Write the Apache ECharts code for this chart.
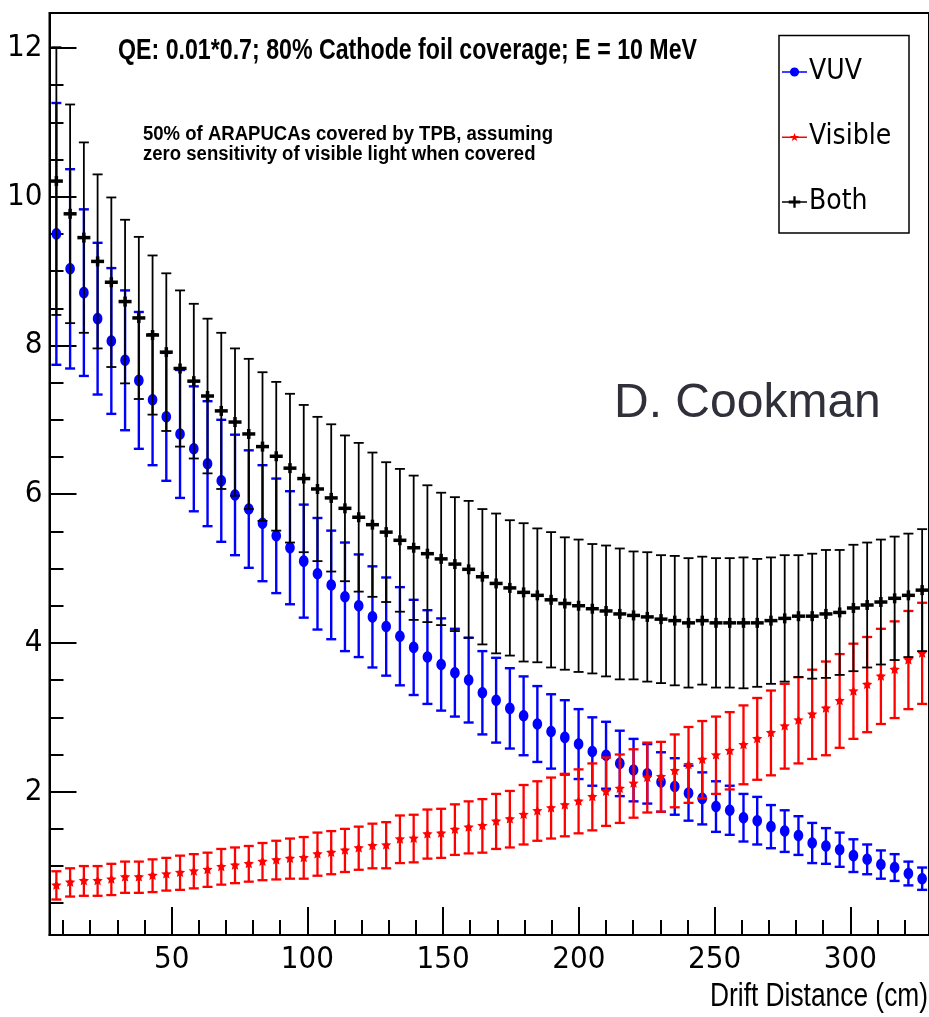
<!DOCTYPE html>
<html>
<head>
<meta charset="utf-8">
<script src="https://cdn.jsdelivr.net/npm/echarts@6/dist/echarts.min.js"></script>
<style>
html,body{margin:0;padding:0;background:#fff;}
#chart{width:929px;height:1017px;}
</style>
</head>
<body>
<div id="chart"></div>
<script>
// ---- data ----
const xBins = [7.53, 12.59, 17.66, 22.72, 27.78, 32.84, 37.91, 42.97, 48.03, 53.09,
  58.16, 63.22, 68.28, 73.34, 78.41, 83.47, 88.53, 93.59, 98.66, 103.72,
  108.78, 113.84, 118.91, 123.97, 129.03, 134.09, 139.16, 144.22, 149.28, 154.34,
  159.41, 164.47, 169.53, 174.59, 179.66, 184.72, 189.78, 194.84, 199.91, 204.97,
  210.03, 215.09, 220.16, 225.22, 230.28, 235.34, 240.41, 245.47, 250.53, 255.59,
  260.66, 265.72, 270.78, 275.84, 280.91, 285.97, 291.03, 296.09, 301.16, 306.22,
  311.28, 316.34, 321.41, 326.47];

const vuv = [9.50, 9.03, 8.71, 8.36, 8.06, 7.80, 7.53, 7.27, 7.04, 6.81,
  6.61, 6.41, 6.18, 5.99, 5.80, 5.61, 5.44, 5.28, 5.10, 4.93,
  4.78, 4.62, 4.50, 4.35, 4.22, 4.09, 3.94, 3.81, 3.71, 3.60,
  3.50, 3.33, 3.23, 3.12, 3.02, 2.91, 2.81, 2.73, 2.64, 2.54,
  2.49, 2.38, 2.29, 2.24, 2.13, 2.07, 1.98, 1.91, 1.80, 1.75,
  1.65, 1.61, 1.53, 1.47, 1.41, 1.31, 1.27, 1.22, 1.14, 1.09,
  1.02, 0.98, 0.90, 0.83];
const vuvErr = [1.76, 1.34, 1.12, 1.02, 0.98, 0.94, 0.92, 0.88, 0.86, 0.86,
  0.84, 0.84, 0.82, 0.81, 0.79, 0.78, 0.77, 0.76, 0.76, 0.75,
  0.73, 0.73, 0.69, 0.68, 0.66, 0.66, 0.64, 0.63, 0.62, 0.59,
  0.57, 0.56, 0.57, 0.54, 0.53, 0.51, 0.50, 0.50, 0.47, 0.46,
  0.45, 0.44, 0.42, 0.40, 0.40, 0.38, 0.37, 0.35, 0.34, 0.33,
  0.32, 0.32, 0.29, 0.28, 0.26, 0.27, 0.24, 0.23, 0.22, 0.20,
  0.19, 0.18, 0.16, 0.15];

const visible = [0.74, 0.78, 0.80, 0.80, 0.82, 0.85, 0.85, 0.87, 0.89, 0.91,
  0.93, 0.95, 0.99, 1.01, 1.03, 1.06, 1.08, 1.10, 1.11, 1.16,
  1.18, 1.21, 1.24, 1.27, 1.28, 1.36, 1.37, 1.43, 1.44, 1.49,
  1.52, 1.54, 1.60, 1.63, 1.69, 1.74, 1.78, 1.82, 1.87, 1.93,
  2.00, 2.04, 2.11, 2.19, 2.20, 2.28, 2.36, 2.43, 2.49, 2.55,
  2.63, 2.71, 2.79, 2.88, 2.96, 3.04, 3.12, 3.22, 3.35, 3.44,
  3.55, 3.64, 3.77, 3.86];
const visibleErr = [0.19, 0.19, 0.20, 0.20, 0.21, 0.21, 0.21, 0.22, 0.22, 0.23,
  0.23, 0.23, 0.24, 0.24, 0.24, 0.25, 0.26, 0.27, 0.28, 0.29,
  0.29, 0.29, 0.29, 0.30, 0.31, 0.32, 0.32, 0.33, 0.33, 0.34,
  0.35, 0.36, 0.37, 0.38, 0.40, 0.40, 0.41, 0.42, 0.43, 0.45,
  0.46, 0.46, 0.46, 0.47, 0.47, 0.49, 0.51, 0.52, 0.52, 0.52,
  0.53, 0.55, 0.57, 0.57, 0.58, 0.60, 0.63, 0.63, 0.64, 0.64,
  0.64, 0.65, 0.66, 0.68];

const both = [10.21, 9.77, 9.45, 9.13, 8.85, 8.59, 8.37, 8.14, 7.91, 7.69,
  7.52, 7.32, 7.12, 6.97, 6.81, 6.64, 6.51, 6.35, 6.21, 6.07,
  5.95, 5.81, 5.69, 5.59, 5.49, 5.38, 5.28, 5.20, 5.13, 5.06,
  4.99, 4.89, 4.80, 4.74, 4.68, 4.64, 4.58, 4.53, 4.50, 4.46,
  4.43, 4.39, 4.37, 4.35, 4.32, 4.30, 4.27, 4.30, 4.27, 4.27,
  4.27, 4.27, 4.30, 4.33, 4.36, 4.36, 4.39, 4.41, 4.47, 4.51,
  4.55, 4.60, 4.64, 4.71];
const bothErr = [1.80, 1.47, 1.28, 1.17, 1.14, 1.10, 1.09, 1.07, 1.06, 1.05,
  1.04, 1.04, 1.05, 0.99, 1.01, 1.00, 1.00, 1.00, 0.99, 0.97,
  0.99, 0.98, 1.00, 0.97, 0.94, 0.96, 0.97, 0.92, 0.89, 0.90,
  0.92, 0.91, 0.94, 0.91, 0.93, 0.90, 0.91, 0.89, 0.89, 0.87,
  0.88, 0.88, 0.86, 0.87, 0.86, 0.87, 0.87, 0.86, 0.87, 0.87,
  0.88, 0.86, 0.85, 0.85, 0.82, 0.84, 0.86, 0.84, 0.85, 0.84,
  0.84, 0.83, 0.83, 0.82];

const seriesNames = ['VUV', 'Visible', 'Both'];
const xMajorTicks = [50, 100, 150, 200, 250, 300];
const xMinorTicks = [10, 20, 30, 40, 60, 70, 80, 90, 110, 120, 130, 140, 160, 170, 180, 190,
  210, 220, 230, 240, 260, 270, 280, 290, 310, 320];
const yMajorTicks = [2, 4, 6, 8, 10, 12];
const yMinorTicks = [0.5, 1, 1.5, 2.5, 3, 3.5, 4.5, 5, 5.5, 6.5, 7, 7.5, 8.5, 9, 9.5,
  10.5, 11, 11.5];
const titleText = 'QE: 0.01*0.7; 80% Cathode foil coverage; E = 10 MeV';
const noteLines = ['50% of ARAPUCAs covered by TPB, assuming', 'zero sensitivity of visible light when covered'];
const xTitle = 'Drift Distance (cm)';
const credit = 'D. Cookman';

// ---- styling ----
const COND = "'DejaVu Sans Condensed', 'Liberation Sans', sans-serif";
const HELV = "'Liberation Sans', Arial, sans-serif";
const X_RANGE = [5, 329];
const Y_RANGE = [0.073, 12.47];

// horizontal squeeze factor so that a text has a given width (the reference uses a narrow face)
const measureCtx = document.createElement('canvas').getContext('2d');
function squeeze(text, font, targetWidth) {
  measureCtx.font = font;
  return targetWidth / measureCtx.measureText(text).width;
}

function toData(vals, errs) {
  return xBins.map((x, i) => [x, vals[i], errs[i]]);
}

function makeRender(kind, color, capHalf, lw) {
  return function (params, api) {
    const x = api.value(0), v = api.value(1), e = api.value(2);
    const c = api.coord([x, v]);
    const t = api.coord([x, v + e]);
    const b = api.coord([x, v - e]);
    const st = { stroke: color, lineWidth: lw };
    const children = [
      { type: 'line', shape: { x1: c[0], y1: t[1], x2: c[0], y2: b[1] }, style: st },
      { type: 'line', shape: { x1: c[0] - capHalf, y1: t[1], x2: c[0] + capHalf, y2: t[1] }, style: st },
      { type: 'line', shape: { x1: c[0] - capHalf, y1: b[1], x2: c[0] + capHalf, y2: b[1] }, style: st }
    ];
    if (kind === 'circle') {
      children.push({ type: 'ellipse', shape: { cx: c[0], cy: c[1], rx: 4.8, ry: 5.8 }, style: { fill: color } });
    } else if (kind === 'star') {
      const pts = [];
      for (let k = 0; k < 10; k++) {
        const r = k % 2 === 0 ? 5.4 : 2.6;
        const a = -Math.PI / 2 + k * Math.PI / 5;
        pts.push([c[0] + r * Math.cos(a), c[1] + r * Math.sin(a)]);
      }
      children.push({ type: 'polygon', shape: { points: pts }, style: { fill: color } });
    } else {
      children.push({ type: 'line', shape: { x1: c[0] - 6.5, y1: c[1], x2: c[0] + 6.5, y2: c[1] }, style: { stroke: color, lineWidth: 3.5 } });
      children.push({ type: 'line', shape: { x1: c[0], y1: c[1] - 5, x2: c[0], y2: c[1] + 5 }, style: { stroke: color, lineWidth: 3.5 } });
    }
    return { type: 'group', children: children };
  };
}

const titleFont = 'bold 30px ' + HELV;
const noteFont = 'bold 20px ' + HELV;
const xTitleFont = '34px ' + HELV;
const titleScale = squeeze(titleText, titleFont, 579);
const noteScale = squeeze(noteLines[0], noteFont, 410);
const xTitleScale = squeeze(xTitle, xTitleFont, 218);

const chart = echarts.init(document.getElementById('chart'), null, { renderer: 'canvas' });

const option = {
  backgroundColor: '#ffffff',
  animation: false,
  grid: { left: 49.5, right: -2, top: 13, bottom: 82, show: true, borderColor: '#000', borderWidth: 2, backgroundColor: 'transparent' },
  xAxis: [
    {
      type: 'value', min: X_RANGE[0], max: X_RANGE[1], position: 'bottom',
      axisLine: { show: true, lineStyle: { color: '#000', width: 2 } },
      axisTick: { show: true, inside: true, length: 28, customValues: xMajorTicks, lineStyle: { color: '#000', width: 2 } },
      axisLabel: { show: true, customValues: xMajorTicks, margin: 9, color: '#000', fontSize: 31, fontFamily: COND },
      splitLine: { show: false }
    },
    {
      type: 'value', min: X_RANGE[0], max: X_RANGE[1], position: 'bottom',
      axisLine: { show: false },
      axisTick: { show: true, inside: true, length: 15, customValues: xMinorTicks, lineStyle: { color: '#000', width: 2 } },
      axisLabel: { show: false },
      splitLine: { show: false }
    }
  ],
  yAxis: [
    {
      type: 'value', min: Y_RANGE[0], max: Y_RANGE[1], position: 'left',
      axisLine: { show: true, lineStyle: { color: '#000', width: 2 } },
      axisTick: { show: true, inside: true, length: 27, customValues: yMajorTicks, lineStyle: { color: '#000', width: 2 } },
      axisLabel: { show: true, customValues: yMajorTicks, margin: 7, color: '#000', fontSize: 31, fontFamily: COND },
      splitLine: { show: false }
    },
    {
      type: 'value', min: Y_RANGE[0], max: Y_RANGE[1], position: 'left',
      axisLine: { show: false },
      axisTick: { show: true, inside: true, length: 14, customValues: yMinorTicks, lineStyle: { color: '#000', width: 2 } },
      axisLabel: { show: false },
      splitLine: { show: false }
    }
  ],
  legend: {
    orient: 'vertical', left: 782, top: 55, padding: 0, itemGap: 31,
    itemWidth: 25, itemHeight: 14,
    textStyle: { color: '#000', fontSize: 28, fontFamily: COND, lineHeight: 34, padding: [0, 0, 0, -3] },
    data: [
      { name: seriesNames[0], icon: 'path://M0,6.3h26v1.4h-26z M13,2.2a4.8,4.8 0 1 1 -0.01,0z' },
      { name: seriesNames[1], icon: 'path://M0,6.3h26v1.4h-26z M13,2.5 L14.2,5.6 L17.5,5.7 L14.9,7.7 L15.8,11 L13,9.1 L10.2,11 L11.1,7.7 L8.5,5.7 L11.8,5.6z' },
      { name: seriesNames[2], icon: 'path://M0,6.3h26v1.4h-26z M7,5.5h12v3h-12z M11.8,1h2.4v12h-2.4z' }
    ]
  },
  graphic: [
    { type: 'rect', z: 1, shape: { x: 779, y: 35.5, width: 130, height: 197.5 }, style: { fill: '#fff', stroke: '#000', lineWidth: 1.5 } },
    { type: 'text', z: 5, x: 118, y: 51, scaleX: titleScale, style: { text: titleText, fill: '#000', font: titleFont, verticalAlign: 'middle', align: 'left' } },
    { type: 'text', z: 5, x: 143, y: 134, scaleX: noteScale, style: { text: noteLines[0], fill: '#000', font: noteFont, verticalAlign: 'middle', align: 'left' } },
    { type: 'text', z: 5, x: 143, y: 154, scaleX: noteScale, style: { text: noteLines[1], fill: '#000', font: noteFont, verticalAlign: 'middle', align: 'left' } },
    { type: 'text', z: 5, x: 614, y: 404, style: { text: credit, fill: '#30303a', font: '48px ' + HELV, verticalAlign: 'middle', align: 'left' } },
    { type: 'text', z: 5, x: 928, y: 997, scaleX: xTitleScale, style: { text: xTitle, fill: '#000', font: xTitleFont, verticalAlign: 'middle', align: 'right' } }
  ],
  series: [
    { name: seriesNames[0], type: 'custom', xAxisIndex: 0, yAxisIndex: 0, itemStyle: { color: '#0000ff' },
      renderItem: makeRender('circle', '#0000ff', 5, 2.4), encode: { x: 0, y: 1 }, data: toData(vuv, vuvErr), z: 2 },
    { name: seriesNames[1], type: 'custom', xAxisIndex: 0, yAxisIndex: 0, itemStyle: { color: '#ff0000' },
      renderItem: makeRender('star', '#ff0000', 5, 2.3), encode: { x: 0, y: 1 }, data: toData(visible, visibleErr), z: 3 },
    { name: seriesNames[2], type: 'custom', xAxisIndex: 0, yAxisIndex: 0, itemStyle: { color: '#000000' },
      renderItem: makeRender('plus', '#000000', 5, 1.8), encode: { x: 0, y: 1 }, data: toData(both, bothErr), z: 4 }
  ]
};
chart.setOption(option);
</script>
</body>
</html>
